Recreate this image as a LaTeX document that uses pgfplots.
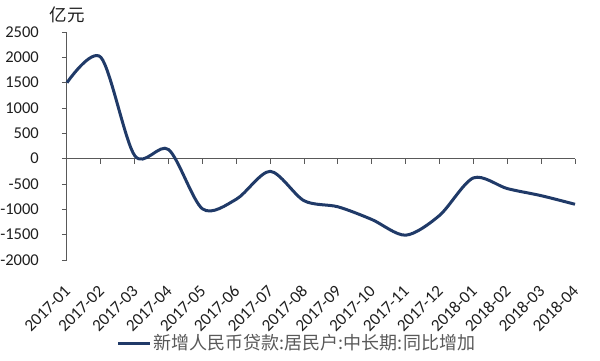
\documentclass[border=0pt]{standalone}
\usepackage{pgfplots}
\pgfplotsset{compat=1.18}
\usepackage{fontspec}
\setmainfont{Carlito}
\newfontfamily\cjk{Noto Sans CJK SC}
\usetikzlibrary{calc}
\definecolor{navy}{RGB}{32,58,104}
\definecolor{axgray}{RGB}{89,89,89}
\definecolor{txt}{RGB}{30,30,30}
\definecolor{legtxt}{RGB}{89,89,89}
\pgfplotstableread{
x y
0 1500
1 2000
2 60
3 180
4 -990
5 -800
6 -250
7 -830
8 -950
9 -1200
10 -1510
11 -1120
12 -380
13 -590
14 -730
15 -900
}\datatable
\begin{document}
\begin{tikzpicture}
\begin{axis}[name=ax, scale only axis, width=508pt, height=228pt,
 xmin=0, xmax=15, ymin=-2000, ymax=2500,
 ytick={-2000,-1500,...,2500},
 xtick={0,...,15},
 xticklabels={2017-01,2017-02,2017-03,2017-04,2017-05,2017-06,2017-07,2017-08,2017-09,2017-10,2017-11,2017-12,2018-01,2018-02,2018-03,2018-04},
 axis lines*=left,
 x axis line style={draw=none},
 y axis line style={axgray, line width=1pt},
 xtick style={draw=none},
 ytick style={axgray, line width=1pt},
 tick align=outside, major tick length=5pt,
 /pgf/number format/assume math mode=true,
 /pgf/number format/1000 sep={},
 yticklabel style={font=\fontsize{16.5}{18}\selectfont, text=txt, inner sep=2pt, xshift=-21pt},
 xticklabel style={font=\fontsize{17}{19}\selectfont, text=txt, inner sep=2pt, xshift=2pt, yshift=-22pt, rotate=45, anchor=east},
 legend style={draw=none, fill=none, font=\cjk\fontsize{18}{20}\selectfont, text=legtxt, at={(0.5,0)}, anchor=center, xshift=-24pt, yshift=-83pt, legend cell align=left},
 legend image code/.code={\draw[#1] (0,0) -- (32pt,0);},
 clip=false,
]
\draw[axgray, line width=1pt] (axis cs:0,0) -- (axis cs:15,0);
\pgfplotsinvokeforeach{1,...,15}{\draw[axgray, line width=1pt] (axis cs:#1,0) -- ([yshift=-5pt]axis cs:#1,0);}
\addplot[navy, line width=3pt, smooth, tension=0.5] table[x=x,y=y]{\datatable};
\addlegendentry{新增人民币贷款:居民户:中长期:同比增加}
\end{axis}
\node[font=\cjk\fontsize{17.5}{20}\selectfont, text=txt] at ($(ax.north west)+(0.5pt,17pt)$) {亿元};
\pgfresetboundingbox
\path[use as bounding box] ($(ax.south west)+(-67pt,-100pt)$) rectangle ++(600pt,360pt);
\end{tikzpicture}
\end{document}
